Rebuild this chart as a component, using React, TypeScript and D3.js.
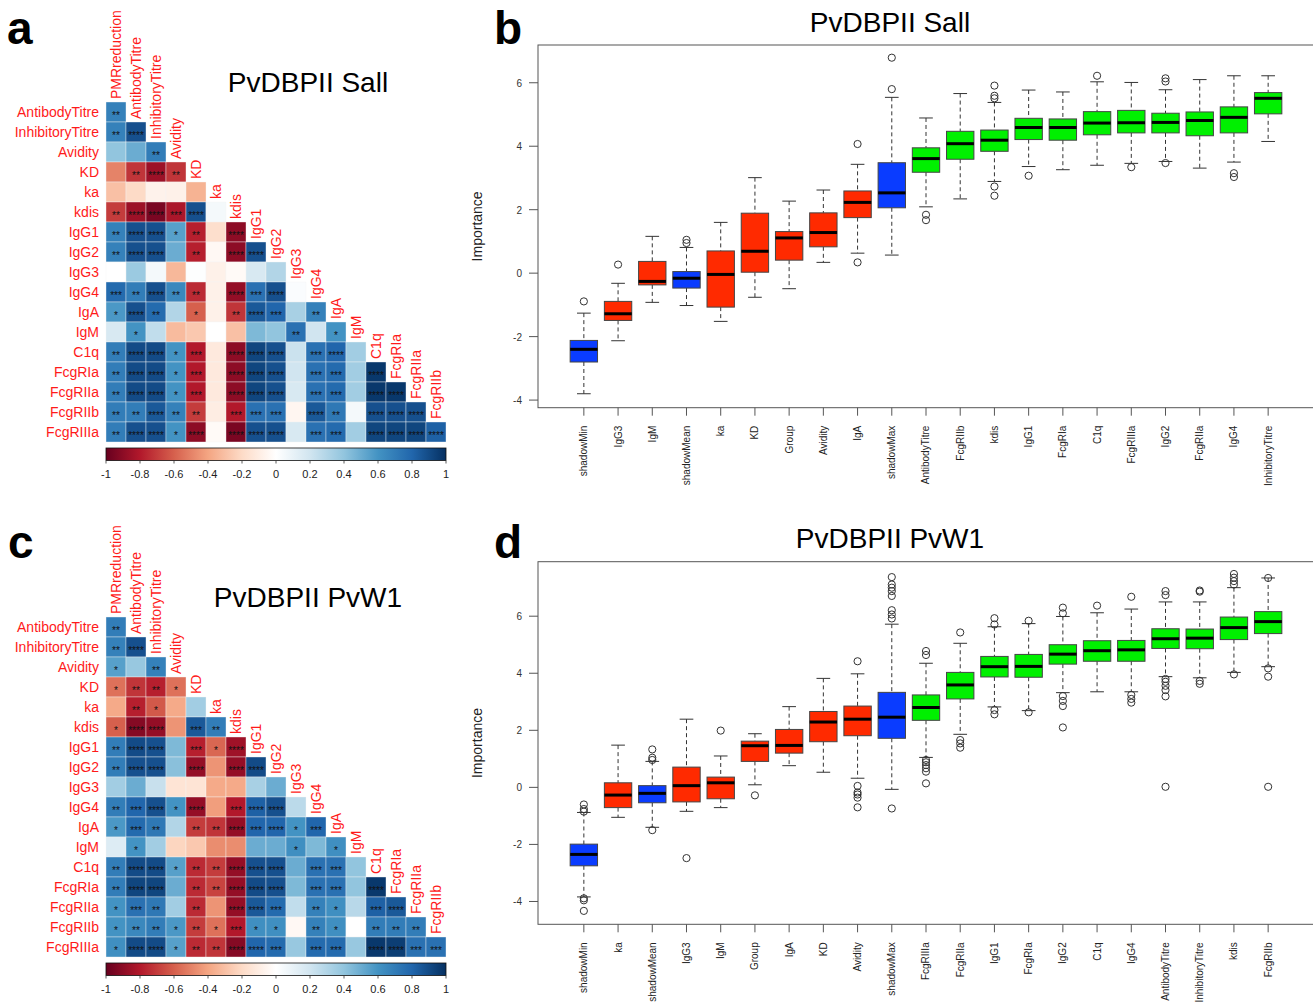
import * as d3 from "d3";

const FONT = "'Liberation Sans', Arial, Helvetica, sans-serif";

// ---- correlation matrices (lower triangle, rows = labels[1..], cols = labels[0..16]) ----
const corrLabels = [
  "PMRreduction", "AntibodyTitre", "InhibitoryTitre", "Avidity", "KD", "ka", "kdis",
  "IgG1", "IgG2", "IgG3", "IgG4", "IgA", "IgM", "C1q", "FcgRIa", "FcgRIIa", "FcgRIIb", "FcgRIIIa",
];

const corrSall = [
  [0.68],
  [0.68, 0.88],
  [0.4, 0.5, 0.7],
  [-0.5, -0.72, -0.86, -0.72],
  [-0.3, -0.2, -0.07, -0.08, -0.35],
  [-0.7, -0.86, -0.95, -0.82, 0.88, 0.05],
  [0.68, 0.88, 0.88, 0.55, -0.78, -0.18, -0.9],
  [0.68, 0.88, 0.88, 0.5, -0.78, -0.04, -0.9, 0.88],
  [0.0, 0.37, 0.05, -0.33, 0.01, -0.08, -0.03, 0.17, 0.3],
  [0.78, 0.7, 0.88, 0.65, -0.75, -0.08, -0.88, 0.75, 0.88, 0.02],
  [0.58, 0.88, 0.78, 0.3, -0.6, -0.08, -0.72, 0.85, 0.8, 0.33, 0.68],
  [0.17, 0.6, 0.25, -0.32, -0.27, 0.0, -0.3, 0.45, 0.4, 0.75, 0.2, 0.6],
  [0.7, 0.9, 0.9, 0.6, -0.8, -0.12, -0.9, 0.92, 0.88, 0.22, 0.75, 0.8, 0.35],
  [0.7, 0.9, 0.9, 0.6, -0.8, -0.12, -0.9, 0.92, 0.88, 0.2, 0.75, 0.78, 0.35, 0.97],
  [0.7, 0.9, 0.9, 0.6, -0.8, -0.12, -0.9, 0.92, 0.88, 0.17, 0.75, 0.78, 0.35, 0.97, 0.97],
  [0.7, 0.7, 0.85, 0.68, -0.7, -0.1, -0.8, 0.75, 0.75, -0.05, 0.85, 0.72, 0.05, 0.88, 0.88, 0.88],
  [0.7, 0.88, 0.88, 0.6, -0.9, -0.03, -0.95, 0.88, 0.88, 0.17, 0.75, 0.78, 0.35, 0.92, 0.92, 0.92, 0.82],
];

const starsSall = [
  [2],
  [2, 4],
  [0, 0, 2],
  [0, 2, 4, 2],
  [0, 0, 0, 0, 0],
  [2, 4, 4, 3, 4, 0],
  [2, 4, 4, 1, 2, 0, 4],
  [2, 4, 4, 0, 2, 0, 4, 4],
  [0, 0, 0, 0, 0, 0, 0, 0, 0],
  [3, 2, 4, 2, 2, 0, 4, 3, 4, 0],
  [1, 4, 2, 0, 1, 0, 2, 4, 3, 0, 2],
  [0, 1, 0, 0, 0, 0, 0, 0, 0, 2, 0, 1],
  [2, 4, 4, 1, 3, 0, 4, 4, 4, 0, 3, 4, 0],
  [2, 4, 4, 1, 3, 0, 4, 4, 4, 0, 3, 3, 0, 4],
  [2, 4, 4, 1, 3, 0, 4, 4, 4, 0, 3, 3, 0, 4, 4],
  [2, 2, 4, 2, 2, 0, 3, 3, 3, 0, 4, 2, 0, 4, 4, 4],
  [2, 4, 4, 1, 4, 0, 4, 4, 4, 0, 3, 3, 0, 4, 4, 4, 4],
];

const corrPvW1 = [
  [0.7],
  [0.68, 0.88],
  [0.55, 0.38, 0.68],
  [-0.55, -0.72, -0.78, -0.55],
  [-0.38, -0.78, -0.62, -0.38, 0.35],
  [-0.6, -0.92, -0.88, -0.45, 0.85, 0.7],
  [0.7, 0.9, 0.88, 0.45, -0.78, -0.58, -0.85],
  [0.7, 0.88, 0.88, 0.42, -0.88, -0.45, -0.88, 0.9],
  [0.35, 0.5, 0.23, -0.15, -0.15, -0.38, -0.38, 0.33, 0.5],
  [0.7, 0.8, 0.88, 0.6, -0.88, -0.42, -0.8, 0.82, 0.88, 0.27],
  [0.58, 0.78, 0.72, 0.3, -0.7, -0.72, -0.88, 0.8, 0.8, 0.6, 0.8],
  [0.15, 0.6, 0.35, -0.22, -0.27, -0.47, -0.47, 0.5, 0.5, 0.62, 0.45, 0.62],
  [0.7, 0.9, 0.9, 0.55, -0.75, -0.7, -0.88, 0.88, 0.88, 0.5, 0.75, 0.75, 0.4],
  [0.7, 0.92, 0.92, 0.5, -0.75, -0.68, -0.88, 0.9, 0.88, 0.45, 0.75, 0.75, 0.4, 0.97],
  [0.6, 0.75, 0.72, 0.35, -0.75, -0.45, -0.88, 0.85, 0.78, 0.25, 0.68, 0.62, 0.28, 0.82, 0.85],
  [0.6, 0.65, 0.7, 0.58, -0.7, -0.55, -0.8, 0.62, 0.62, -0.04, 0.68, 0.62, 0.0, 0.7, 0.7, 0.7],
  [0.62, 0.9, 0.9, 0.55, -0.75, -0.72, -0.92, 0.8, 0.78, 0.38, 0.78, 0.78, 0.38, 0.97, 0.95, 0.75, 0.75],
];

const starsPvW1 = [
  [2],
  [2, 4],
  [1, 0, 2],
  [1, 2, 2, 1],
  [0, 2, 1, 0, 0],
  [1, 4, 4, 0, 3, 2],
  [2, 4, 4, 0, 3, 1, 4],
  [2, 4, 4, 0, 4, 0, 4, 4],
  [0, 0, 0, 0, 0, 0, 0, 0, 0],
  [2, 3, 4, 1, 4, 0, 3, 4, 4, 0],
  [1, 3, 2, 0, 2, 2, 4, 3, 4, 1, 3],
  [0, 1, 0, 0, 0, 0, 0, 0, 0, 1, 0, 1],
  [2, 4, 4, 1, 2, 2, 4, 4, 4, 0, 3, 3, 0],
  [2, 4, 4, 0, 2, 2, 4, 4, 4, 0, 3, 3, 0, 4],
  [1, 3, 2, 0, 2, 0, 4, 4, 3, 0, 2, 1, 0, 3, 4],
  [1, 2, 2, 1, 2, 1, 3, 1, 1, 0, 2, 1, 0, 2, 2, 2],
  [1, 4, 4, 1, 2, 2, 4, 4, 3, 0, 3, 3, 0, 4, 4, 3, 3],
];

const rdbu = ["#67001F", "#B2182B", "#D6604D", "#F4A582", "#FDDBC7", "#FFFFFF",
  "#D1E5F0", "#92C5DE", "#4393C3", "#2166AC", "#053061"];
const legendTicks = d3.range(11).map((i) => Math.round((-1 + i * 0.2) * 10) / 10);

// ---- Boruta importance boxplots: [lower whisker, Q1, median, Q3, upper whisker] ----
const sallNames = ["shadowMin", "IgG3", "IgM", "shadowMean", "ka", "KD", "Group", "Avidity", "IgA",
  "shadowMax", "AntibodyTitre", "FcgRIIb", "kdis", "IgG1", "FcgRIa", "C1q", "FcgRIIIa", "IgG2",
  "FcgRIIa", "IgG4", "InhibitoryTitre"];
const sallStatus = ["shadow", "rejected", "rejected", "shadow", "rejected", "rejected", "rejected",
  "rejected", "rejected", "shadow", "confirmed", "confirmed", "confirmed", "confirmed", "confirmed",
  "confirmed", "confirmed", "confirmed", "confirmed", "confirmed", "confirmed"];
const sallBoxes = [
  [-3.8, -2.8, -2.4, -2.12, -1.26],
  [-2.13, -1.49, -1.28, -0.89, -0.32],
  [-0.92, -0.37, -0.26, 0.37, 1.16],
  [-1.02, -0.47, -0.16, 0.05, 0.81],
  [-1.52, -1.07, -0.04, 0.7, 1.6],
  [-0.76, 0.03, 0.69, 1.89, 3.01],
  [-0.49, 0.41, 1.11, 1.31, 2.27],
  [0.34, 0.83, 1.28, 1.9, 2.62],
  [0.63, 1.75, 2.23, 2.59, 3.43],
  [0.57, 2.06, 2.53, 3.48, 5.54],
  [2.09, 3.18, 3.61, 3.95, 4.89],
  [2.34, 3.59, 4.08, 4.47, 5.66],
  [2.89, 3.84, 4.19, 4.51, 5.38],
  [3.36, 4.21, 4.59, 4.88, 5.77],
  [3.26, 4.19, 4.59, 4.86, 5.71],
  [3.4, 4.36, 4.73, 5.09, 6.03],
  [3.46, 4.42, 4.74, 5.13, 6.01],
  [3.52, 4.42, 4.75, 5.04, 5.78],
  [3.31, 4.33, 4.81, 5.08, 6.1],
  [3.5, 4.42, 4.91, 5.24, 6.22],
  [4.15, 5.02, 5.51, 5.69, 6.22],
];
const sallOutliers = [
  [-0.89], [0.27], [], [0.95, 1.05], [], [], [], [], [4.07, 0.34],
  [5.8, 6.79], [1.84, 1.67], [], [5.51, 5.59, 5.91, 2.73, 2.44], [3.07], [], [6.22], [3.34],
  [6.04, 6.14, 3.47], [], [3.15, 3.03], [],
];

const pvw1Names = ["shadowMin", "ka", "shadowMean", "IgG3", "IgM", "Group", "IgA", "KD", "Avidity",
  "shadowMax", "FcgRIIIa", "FcgRIIa", "IgG1", "FcgRIa", "IgG2", "C1q", "IgG4", "AntibodyTitre",
  "InhibitoryTitre", "kdis", "FcgRIIb"];
const pvw1Status = ["shadow", "rejected", "shadow", "rejected", "rejected", "rejected", "rejected",
  "rejected", "rejected", "shadow", "confirmed", "confirmed", "confirmed", "confirmed", "confirmed",
  "confirmed", "confirmed", "confirmed", "confirmed", "confirmed", "confirmed"];
const pvw1Boxes = [
  [-3.84, -2.75, -2.35, -1.99, -0.88],
  [-1.05, -0.71, -0.27, 0.16, 1.48],
  [-1.4, -0.54, -0.21, 0.06, 0.91],
  [-0.84, -0.51, 0.06, 0.71, 2.39],
  [-0.71, -0.4, 0.16, 0.36, 1.1],
  [0.09, 0.91, 1.46, 1.62, 1.88],
  [0.76, 1.2, 1.47, 2.03, 2.83],
  [0.53, 1.6, 2.29, 2.66, 3.82],
  [0.32, 1.81, 2.39, 2.85, 3.98],
  [-0.07, 1.72, 2.46, 3.33, 5.72],
  [1.05, 2.35, 2.8, 3.24, 4.35],
  [1.86, 3.1, 3.59, 4.03, 5.05],
  [2.82, 3.87, 4.23, 4.59, 5.63],
  [2.69, 3.86, 4.24, 4.66, 5.74],
  [3.32, 4.32, 4.67, 5.0, 5.99],
  [3.35, 4.42, 4.79, 5.14, 6.12],
  [3.35, 4.42, 4.82, 5.15, 6.25],
  [3.88, 4.87, 5.21, 5.56, 6.5],
  [3.84, 4.86, 5.23, 5.55, 6.5],
  [4.03, 5.18, 5.6, 5.97, 7.0],
  [4.23, 5.39, 5.81, 6.16, 7.34],
];
const pvw1Outliers = [
  [-0.6, -0.76, -0.85, -3.89, -3.96, -4.33], [], [1.33, 1.04, 0.96, -1.5], [-2.48], [1.99],
  [-0.28], [], [], [4.42, 0.05, -0.18, -0.25, -0.36, -0.7],
  [5.92, 6.06, 6.21, 6.71, 6.88, 7.0, 7.11, 7.37, -0.74],
  [4.64, 4.78, 0.96, 0.88, 0.78, 0.67, 0.55, 0.14], [5.43, 1.66, 1.54, 1.39],
  [5.71, 5.93, 2.71, 2.56], [5.84, 2.63], [6.1, 6.3, 3.2, 3.03, 2.85, 2.1], [6.37],
  [6.68, 3.24, 3.1, 2.97], [6.74, 6.88, 3.8, 3.7, 3.56, 3.41, 3.19, 0.02], [6.86, 6.9, 3.73, 3.63],
  [7.11, 7.23, 7.35, 7.48, 3.96], [7.34, 4.17, 3.88, 0.02],
];

const yTicks = [-4, -2, 0, 2, 4, 6];
const statusFill: Record<string, string> = { shadow: "#0a3cff", rejected: "#ff2a00", confirmed: "#00f000" };

function CorrPanel({ id, top, values, stars, title }: {
  id: string; top: number; values: number[][]; stars: number[][]; title: string;
}) {
  const left = 106;
  const size = 340;
  const rows = corrLabels.slice(1);
  const cols = corrLabels.slice(0, 17);
  const x = d3.scaleBand<string>().domain(cols).range([left, left + size]);
  const y = d3.scaleBand<string>().domain(rows).range([top, top + size]);
  const colour = d3.scaleLinear<string>().domain(legendTicks).range(rdbu).interpolate(d3.interpolateRgb);
  const barTop = top + size + 6;
  const barH = 12.5;
  const lx = d3.scaleLinear().domain([-1, 1]).range([left, left + size]);
  const bw = x.bandwidth();
  return (
    <g>
      <defs>
        <linearGradient id={id} x1="0" x2="1" y1="0" y2="0">
          {legendTicks.map((t, i) => (
            <stop key={i} offset={(t + 1) / 2} stopColor={rdbu[i]} />
          ))}
        </linearGradient>
      </defs>
      <text x={308} y={top - 10} textAnchor="middle" fontSize={28} fontFamily={FONT} fill="#000">{title}</text>
      {values.map((row, i) =>
        row.map((v, j) => (
          <rect key={`${i}-${j}`} x={x(cols[j])} y={y(rows[i])} width={bw} height={bw}
            fill={colour(v)} stroke="#f2f2f2" strokeWidth={0.4} />
        ))
      )}
      {stars.map((row, i) =>
        row.map((s, j) => s > 0 ? (
          <text key={`s${i}-${j}`} x={x(cols[j])! + bw / 2} y={y(rows[i])! + bw / 2 + 7}
            textAnchor="middle" fontSize={10} fontFamily={FONT} fill="#111">{"*".repeat(s)}</text>
        ) : null)
      )}
      {rows.map((r) => (
        <text key={r} x={left - 7} y={y(r)! + bw / 2 + 5} textAnchor="end" fontSize={14}
          fontFamily={FONT} fill="#ff1a1a">{r}</text>
      ))}
      {cols.map((c, j) => {
        const cx = x(c)! + bw / 2 + 5;
        const cy = y(rows[j])! - 3;
        return (
          <text key={c} x={cx} y={cy} transform={`rotate(-90 ${cx} ${cy})`} fontSize={14}
            fontFamily={FONT} fill="#ff1a1a">{c}</text>
        );
      })}
      <rect x={left} y={barTop} width={size} height={barH} fill={`url(#${id})`} stroke="#111" strokeWidth={0.8} />
      {legendTicks.map((t) => (
        <g key={t}>
          <line x1={lx(t)} x2={lx(t)} y1={barTop + barH} y2={barTop + barH + 3} stroke="#333" strokeWidth={0.8} />
          <text x={lx(t)} y={barTop + barH + 17} textAnchor="middle" fontSize={11} fontFamily={FONT} fill="#222">{String(t)}</text>
        </g>
      ))}
    </g>
  );
}

function BoxPanel({ top, bottom, yMin, yMax, names, status, boxes, outliers, title, titleY }: {
  top: number; bottom: number; yMin: number; yMax: number; names: string[]; status: string[];
  boxes: number[][]; outliers: number[][]; title: string; titleY: number;
}) {
  const left = 538;
  const n = names.length;
  const ext = (n) * 0.04;
  const x = d3.scaleLinear().domain([0.5 - ext, n + 0.5 + ext]).range([left, 1314]);
  const y = d3.scaleLinear().domain([yMin, yMax]).range([bottom, top]);
  const step = x(2) - x(1);
  const bw = step * 0.8;
  const cap = bw / 2;
  const midY = (top + bottom) / 2;
  return (
    <g fontFamily={FONT}>
      <text x={890} y={titleY} textAnchor="middle" fontSize={28} fill="#000">{title}</text>
      <rect x={left} y={top} width={1314 - left} height={bottom - top} fill="none" stroke="#555" strokeWidth={1} />
      {yTicks.map((t) => (
        <g key={t}>
          <line x1={left - 9} x2={left} y1={y(t)} y2={y(t)} stroke="#555" />
          <text x={left - 16} y={y(t) + 4} textAnchor="end" fontSize={10} fill="#333">{String(t)}</text>
        </g>
      ))}
      <text x={482} y={midY} transform={`rotate(-90 482 ${midY})`} textAnchor="middle" fontSize={14} fill="#222">Importance</text>
      {names.map((name, i) => {
        const cx = x(i + 1);
        const [lo, q1, med, q3, hi] = boxes[i];
        const ly = bottom + 18;
        return (
          <g key={name}>
            <line x1={cx} x2={cx} y1={y(hi)} y2={y(q3)} stroke="#333" strokeDasharray="4,3" />
            <line x1={cx} x2={cx} y1={y(q1)} y2={y(lo)} stroke="#333" strokeDasharray="4,3" />
            <line x1={cx - cap / 2} x2={cx + cap / 2} y1={y(hi)} y2={y(hi)} stroke="#333" />
            <line x1={cx - cap / 2} x2={cx + cap / 2} y1={y(lo)} y2={y(lo)} stroke="#333" />
            <rect x={cx - bw / 2} y={y(q3)} width={bw} height={y(q1) - y(q3)} fill={statusFill[status[i]]} stroke="#444" strokeWidth={1} />
            <line x1={cx - bw / 2} x2={cx + bw / 2} y1={y(med)} y2={y(med)} stroke="#000" strokeWidth={3} />
            {outliers[i].map((o, k) => (
              <circle key={k} cx={cx} cy={y(o)} r={3.6} fill="none" stroke="#333" strokeWidth={1} />
            ))}
            <line x1={cx} x2={cx} y1={bottom} y2={bottom + 8} stroke="#555" />
            <text x={cx + 3.5} y={ly} transform={`rotate(-90 ${cx + 3.5} ${ly})`} textAnchor="end" fontSize={10} fill="#222">{name}</text>
          </g>
        );
      })}
    </g>
  );
}

export default function App() {
  const letter = { fontSize: 46, fontWeight: "bold" as const, fontFamily: FONT };
  return (
    <svg width={1313} height={1007} style={{ position: "absolute", left: 0, top: 0, display: "block", background: "#fff" }}>
      <rect width={1313} height={1007} fill="#fff" />
      <text x={7} y={44} {...letter}>a</text>
      <text x={494} y={44} {...letter}>b</text>
      <text x={8} y={558} {...letter}>c</text>
      <text x={494} y={558} {...letter}>d</text>
      <CorrPanel id="gradA" top={102} values={corrSall} stars={starsSall} title="PvDBPII Sall" />
      <CorrPanel id="gradC" top={617} values={corrPvW1} stars={starsPvW1} title="PvDBPII PvW1" />
      <BoxPanel top={45} bottom={407.7} yMin={-4.24} yMax={7.19} names={sallNames} status={sallStatus}
        boxes={sallBoxes} outliers={sallOutliers} title="PvDBPII Sall" titleY={32} />
      <BoxPanel top={561.7} bottom={924.3} yMin={-4.8} yMax={7.91} names={pvw1Names} status={pvw1Status}
        boxes={pvw1Boxes} outliers={pvw1Outliers} title="PvDBPII PvW1" titleY={548} />
    </svg>
  );
}
